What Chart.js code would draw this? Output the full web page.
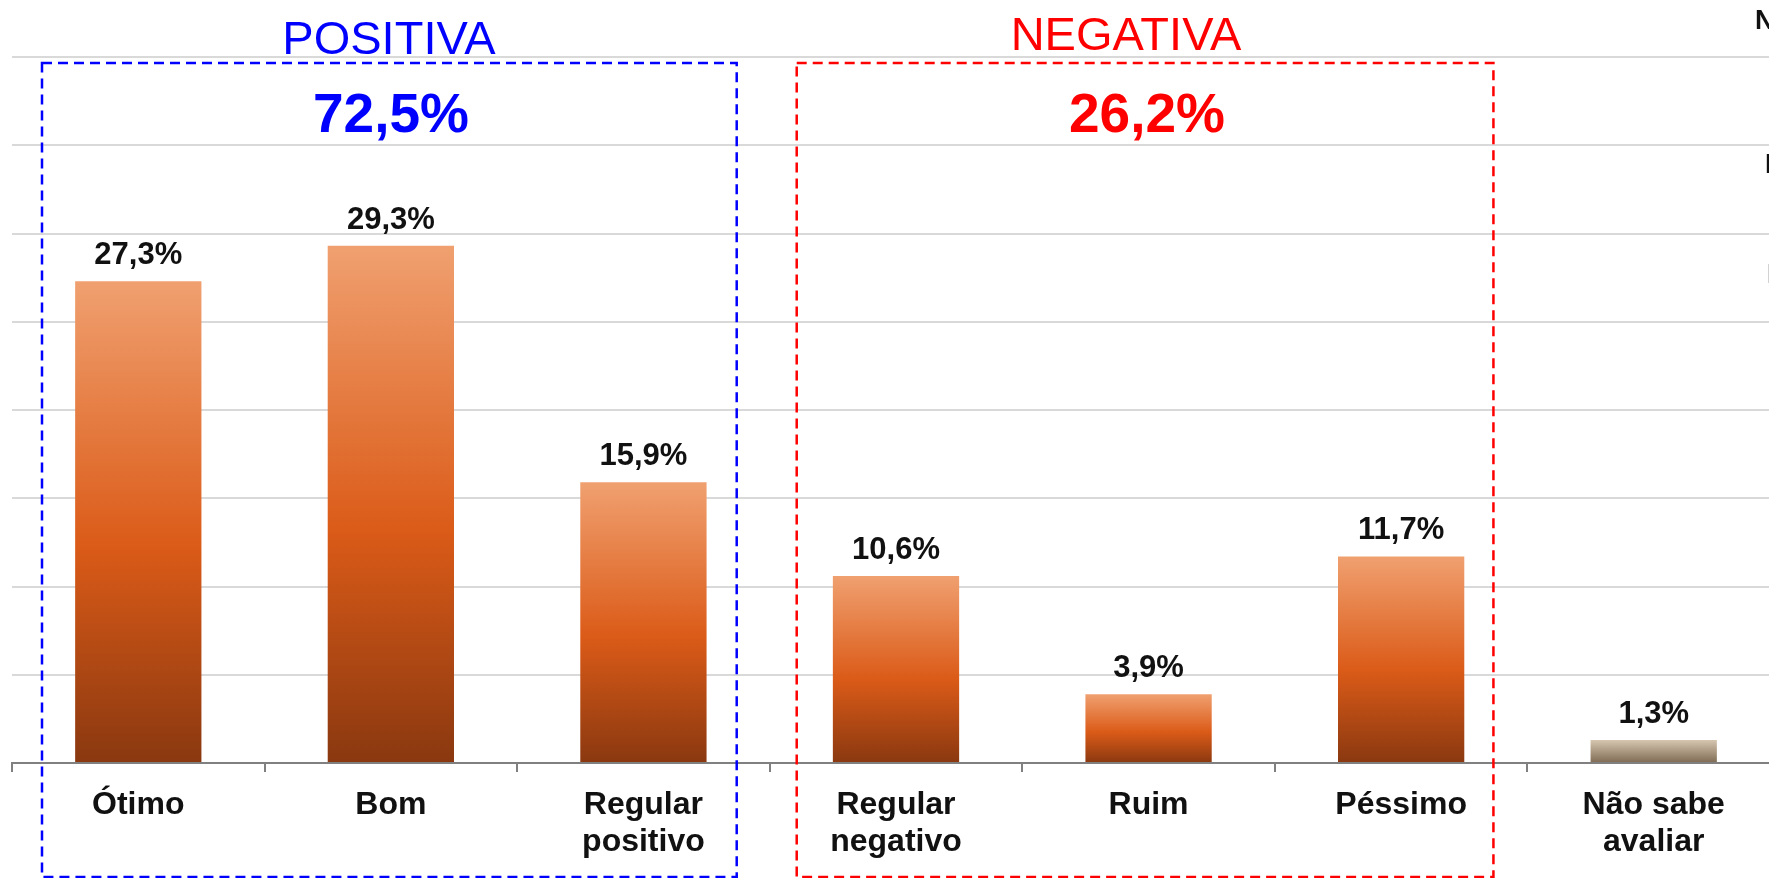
<!DOCTYPE html>
<html>
<head>
<meta charset="utf-8">
<script src="https://cdn.jsdelivr.net/npm/chart.js@4/dist/chart.umd.min.js"></script>
<style>
  html, body { margin: 0; padding: 0; background: #fff; overflow: hidden; }
  #wrap { position: relative; width: 1780px; height: 878px; }
</style>
</head>
<body>
<div id="wrap"><canvas id="chart"></canvas></div>
<script>
// dados
const categories = [['Ótimo'], ['Bom'], ['Regular', 'positivo'], ['Regular', 'negativo'], ['Ruim'], ['Péssimo'], ['Não sabe', 'avaliar']]
const values = [27.3, 29.3, 15.9, 10.6, 3.9, 11.7, 1.3]
const groupNames = ['POSITIVA', 'NEGATIVA']
const groupTotals = [72.5, 26.2]
const groupColors = ['#0000FF', '#FF0000']
const sideLetters = ['N', 'B', 'B'] // texto cortado na borda direita

const fmt = v => v.toFixed(1).replace('.', ',') + '%'

function barFill(context) {
  const chart = context.chart
  if (!chart.chartArea) return '#DC5C18'
  const y = chart.scales.y
  const top = y.getPixelForValue(context.raw)
  const bottom = y.getPixelForValue(0)
  const g = chart.ctx.createLinearGradient(0, top, 0, bottom)
  if (context.dataIndex === values.length - 1) {
    g.addColorStop(0, '#D6C6B0')
    g.addColorStop(1, '#7E6A52')
  } else {
    g.addColorStop(0, '#F0A070')
    g.addColorStop(0.55, '#DB5B18')
    g.addColorStop(1, '#8A3810')
  }
  return g
}

const valueLabels = {
  id: 'valueLabels',
  afterDatasetsDraw: chart => {
    const ctx = chart.ctx
    const meta = chart.getDatasetMeta(0)
    ctx.save()
    ctx.font = 'bold 31px "Liberation Sans", Arial, sans-serif'
    ctx.fillStyle = '#111'
    ctx.textAlign = 'center'
    ctx.textBaseline = 'alphabetic'
    meta.data.forEach((bar, i) => {
      ctx.fillText(fmt(values[i]), bar.x, bar.y - 17)
    })
    ctx.restore()
  }
}

const groupBoxes = {
  id: 'groupBoxes',
  afterDraw: chart => {
    const ctx = chart.ctx
    const x = chart.scales.x
    const cw = x.width / categories.length
    const edge = i => x.getPixelForValue(i) - cw / 2
    const boxes = [
      { l: edge(0) + 30, r: edge(3) - 33, titleX: 389, totalX: 391, titleY: 54 },
      { l: edge(3) + 27, r: edge(6) - 34, titleX: 1126, totalX: 1147, titleY: 50 }
    ]
    ctx.save()
    boxes.forEach((b, i) => {
      ctx.strokeStyle = groupColors[i]
      ctx.lineWidth = 2.5
      ctx.setLineDash([10, 6])
      ctx.strokeRect(b.l, 63, b.r - b.l, 877 - 63)
      ctx.setLineDash([])
      ctx.fillStyle = groupColors[i]
      ctx.textAlign = 'center'
      ctx.textBaseline = 'alphabetic'
      ctx.font = '47px "Liberation Sans", Arial, sans-serif'
      ctx.fillText(groupNames[i], b.titleX, b.titleY)
      ctx.font = 'bold 55px "Liberation Sans", Arial, sans-serif'
      ctx.fillText(fmt(groupTotals[i]), b.totalX, 132)
    })
    // letras cortadas no canto direito
    ctx.fillStyle = '#111'
    ctx.textAlign = 'left'
    ctx.font = 'bold 27px "Liberation Sans", Arial, sans-serif'
    ctx.fillText(sideLetters[0], 1755, 29)
    ctx.fillText(sideLetters[1], 1765, 173)
    ctx.fillText(sideLetters[2], 1767, 283)
    ctx.restore()
  }
}

new Chart(document.getElementById('chart'), {
  type: 'bar',
  data: {
    labels: categories,
    datasets: [{
      data: values,
      backgroundColor: barFill,
      borderWidth: 0,
      barPercentage: 0.5,
      categoryPercentage: 1.0
    }]
  },
  options: {
    responsive: true,
    maintainAspectRatio: false,
    animation: false,
    layout: { padding: { left: 12, right: 0, top: 57, bottom: 0 } },
    plugins: { legend: { display: false }, tooltip: { enabled: false } },
    scales: {
      x: {
        afterFit: s => { s.height = 115 },
        grid: {
          offset: true,
          drawOnChartArea: false,
          drawTicks: true,
          tickLength: 9,
          color: '#808080',
          lineWidth: 2
        },
        border: { display: true, color: '#808080', width: 2 },
        ticks: {
          color: '#111',
          padding: 15,
          maxRotation: 0,
          autoSkip: false,
          font: { family: '"Liberation Sans", Arial, sans-serif', size: 32, weight: 'bold', lineHeight: '37px' }
        }
      },
      y: {
        min: 0,
        max: 40,
        afterFit: s => { s.width = 0 },
        ticks: { display: false, stepSize: 5 },
        grid: { color: '#D9D9D9', lineWidth: 2, drawTicks: false },
        border: { display: false }
      }
    }
  },
  plugins: [valueLabels, groupBoxes]
})
</script>
</body>
</html>
